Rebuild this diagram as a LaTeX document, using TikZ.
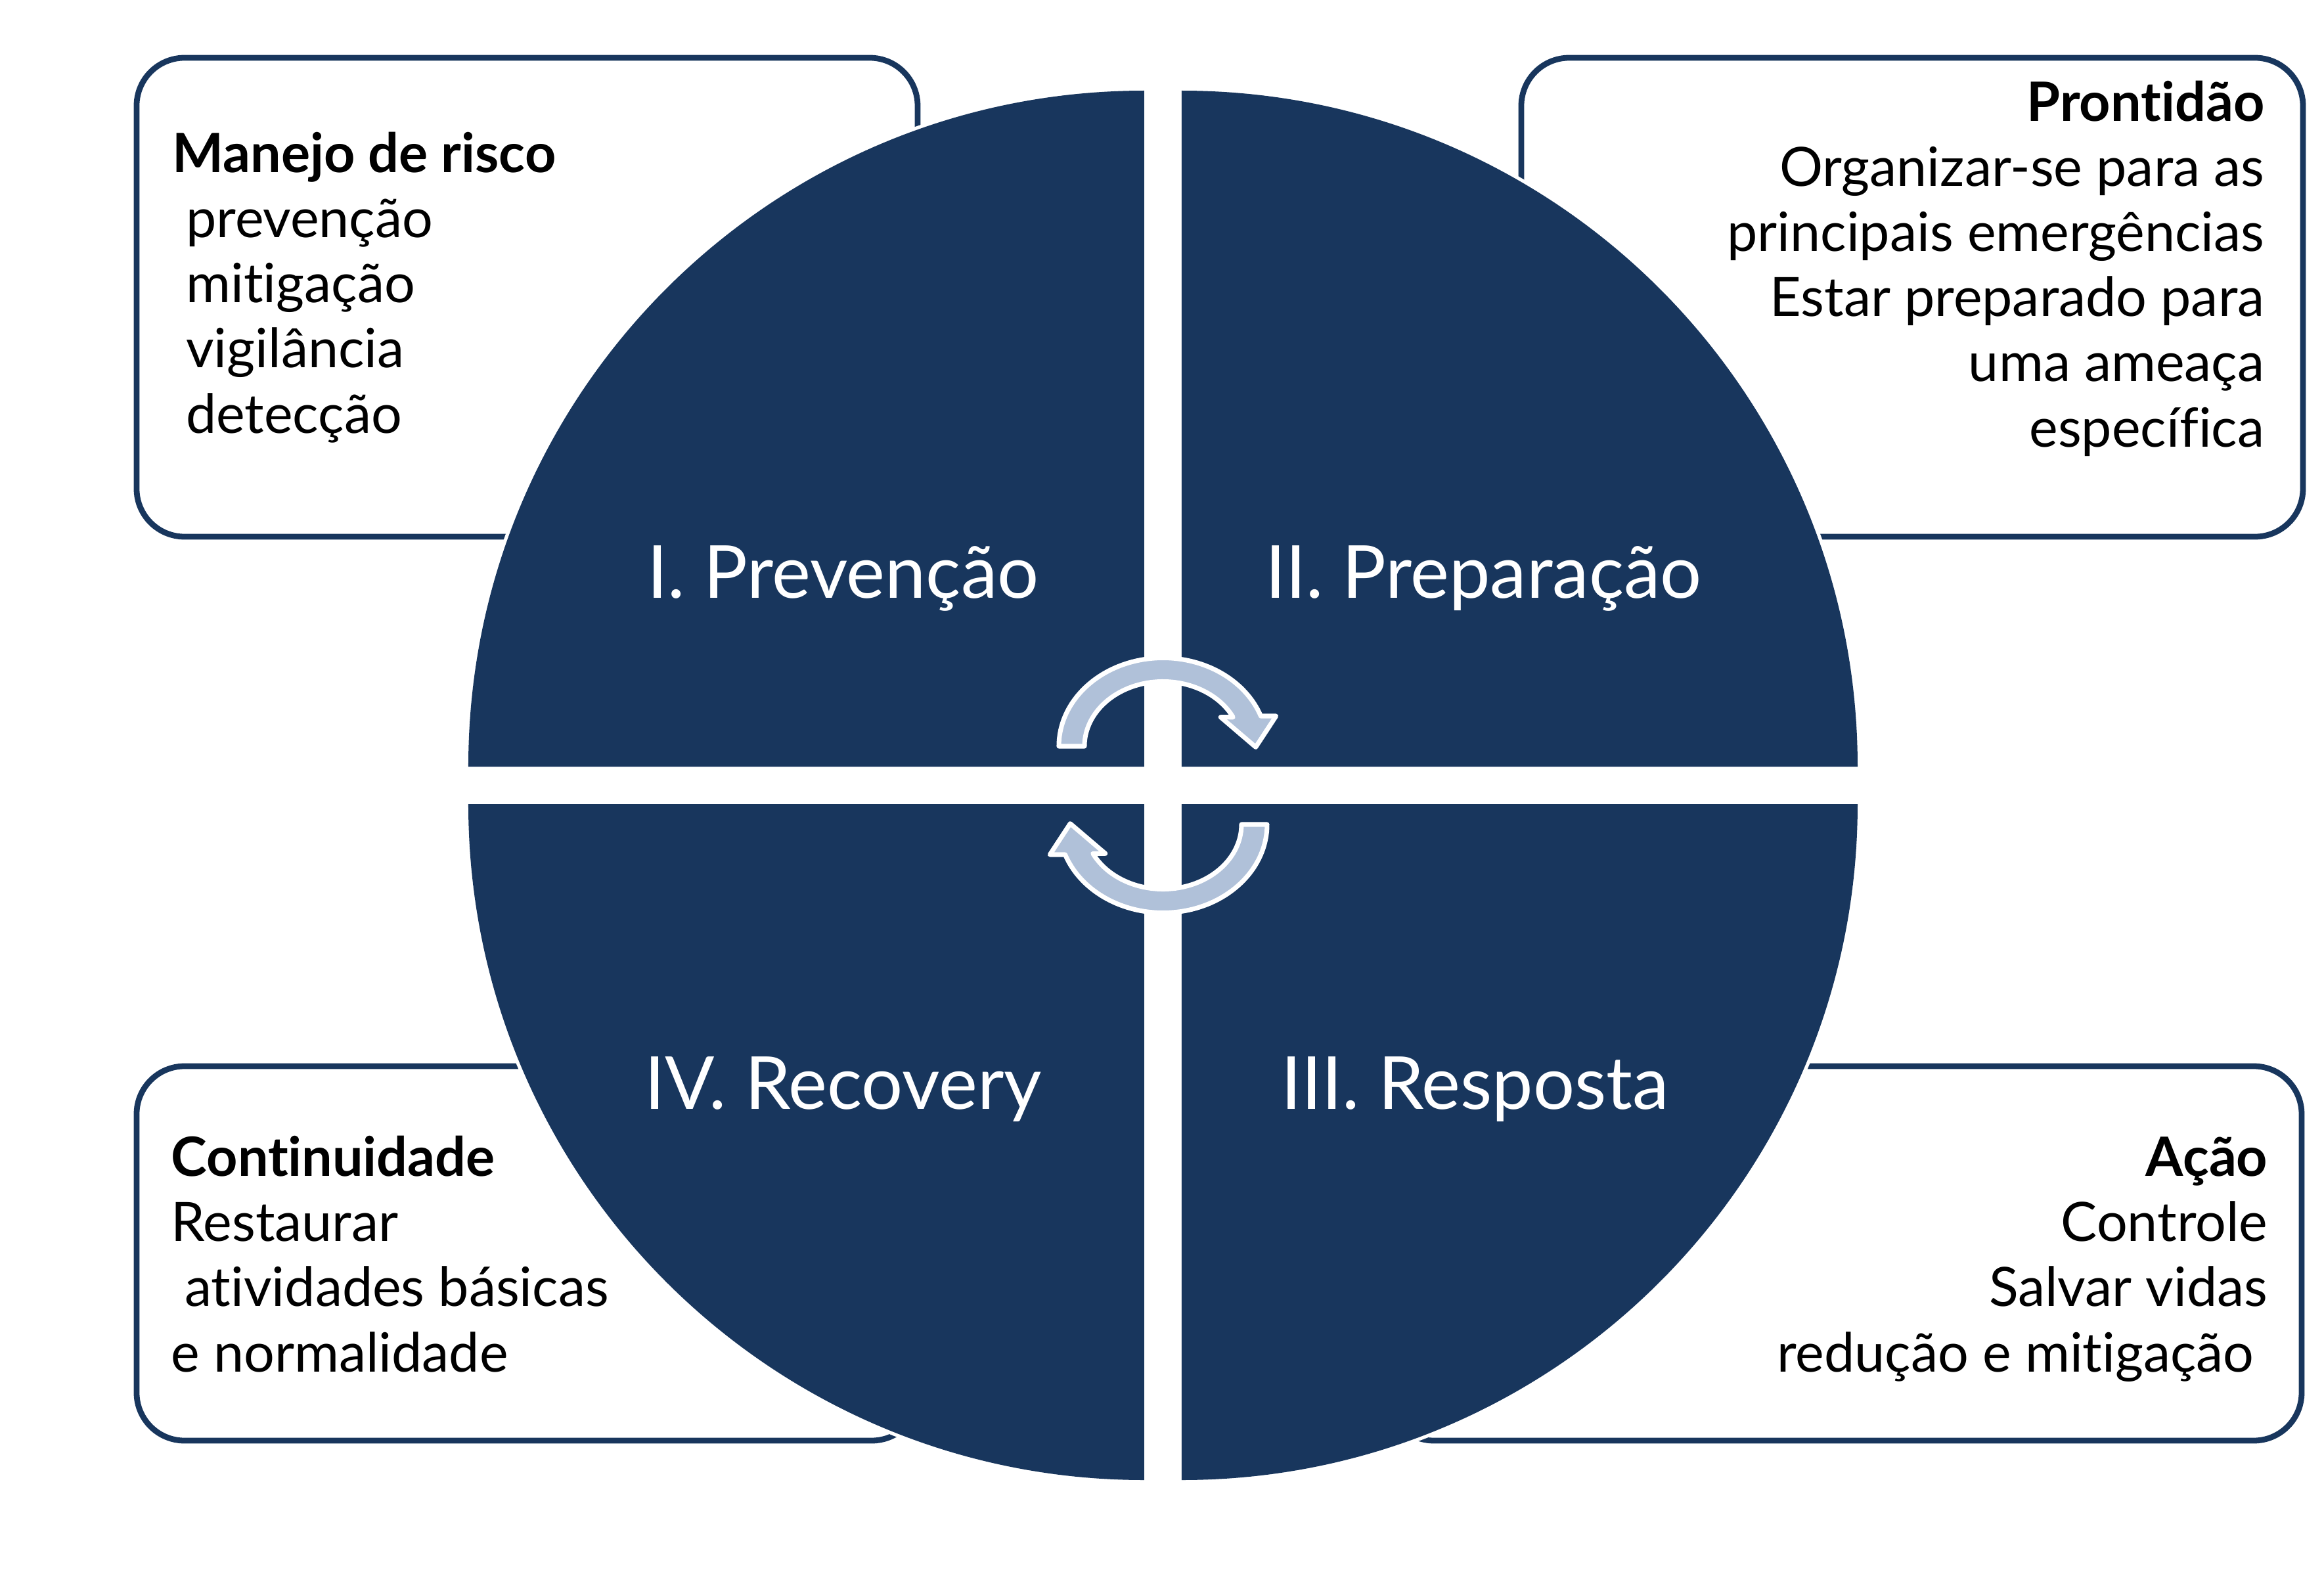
\documentclass[tikz,border=0pt]{standalone}
\usepackage{fontspec}
\setmainfont{Lato}[Ligatures=NoCommon]
\usetikzlibrary{positioning}
\definecolor{cycnavy}{HTML}{18365D}
\definecolor{cycarrow}{HTML}{B0C1D9}

\begin{document}
\begin{tikzpicture}[x=1cm,y=1cm,
    infobox/.style={draw=cycnavy,line width=2.5pt,rounded corners=0.73cm,fill=white},
    boxtext/.style={font=\fontsize{23.5}{28.2}\selectfont,inner sep=0pt},
    halo/.style={fill=white,draw=white,line width=3pt},
    quadrant/.style={fill=cycnavy},
    phase/.style={font=\fontsize{31.7}{37}\selectfont,text=white,inner sep=0pt,anchor=base},
    cyclearrow/.style={fill=cycarrow,draw=white,line width=2pt,line join=round}]
    \useasboundingbox (-17.705,-11.965) rectangle (17.675,11.955);
    % --- cajas de texto (por debajo del circulo) ---
    \draw[infobox] (-15.625,3.785) rectangle (-3.735,11.075);
    \draw[infobox] (5.455,3.785) rectangle (17.355,11.075);
    \draw[infobox] (-15.625,-9.975) rectangle (-3.705,-4.275);
    \draw[infobox] (3.395,-9.975) rectangle (17.335,-4.275);
    % base = linea de base de la ultima linea
    \node[boxtext,align=left,anchor=base west] (risco) at (-15.085,5.365)
      {\textbf{Manejo de risco}\\\hspace*{.25em}prevenção\\\hspace*{.25em}mitigação\\\hspace*{.25em}vigilância\\\hspace*{.25em}detecção};
    \node[boxtext,align=right,anchor=base east] (prontidao) at (16.775,5.155)
      {\textbf{Prontidão}\\Organizar-se para as\\principais emergências\\Estar preparado para\\uma ameaça\\específica};
    \node[boxtext,align=left,anchor=base west] (continuidade) at (-15.105,-8.925)
      {\textbf{Continuidade}\\Restaurar\\\hspace*{.25em}atividades básicas\\e normalidade};
    \node[boxtext,align=right,anchor=base east] (acao) at (16.825,-8.925)
      {\textbf{Ação}\\Controle\\Salvar vidas\\redução e mitigação\hspace*{.25em}};
    % --- circulo en cuatro cuadrantes ---
    \foreach \sx/\sy/\a in {-1/1/90,1/1/0,1/-1/270,-1/-1/180}{
      \filldraw[halo] (\sx*0.285,\sy*0.285) -- ++(\a:10.29) arc[start angle=\a,delta angle=90,radius=10.29] -- cycle;
      \fill[quadrant] (\sx*0.285,\sy*0.285) -- ++(\a:10.29) arc[start angle=\a,delta angle=90,radius=10.29] -- cycle;
    }
    \node[phase] (prevencao) at (-4.87,2.855) {I. Prevenção};
    \node[phase] (preparacao) at (4.88,2.855) {II. Preparação};
    \node[phase] (resposta) at (4.75,-4.925) {III. Resposta};
    \node[phase] (recovery) at (-4.87,-4.925) {IV. Recovery};
    % --- flechas del ciclo ---
    \foreach \r in {0,180}{
      \path[cyclearrow,rotate=\r] (-1.585,0.595) arc[start angle=180,end angle=20,x radius=1.585,y radius=1.345]
        -- (1.722,1.055) -- (1.412,0.582) -- (0.878,1.038) -- (1.0675,1.0376)
        arc[start angle=26.7,end angle=180,x radius=1.195,y radius=0.985] -- cycle;
    }
  \end{tikzpicture}
\end{document}
